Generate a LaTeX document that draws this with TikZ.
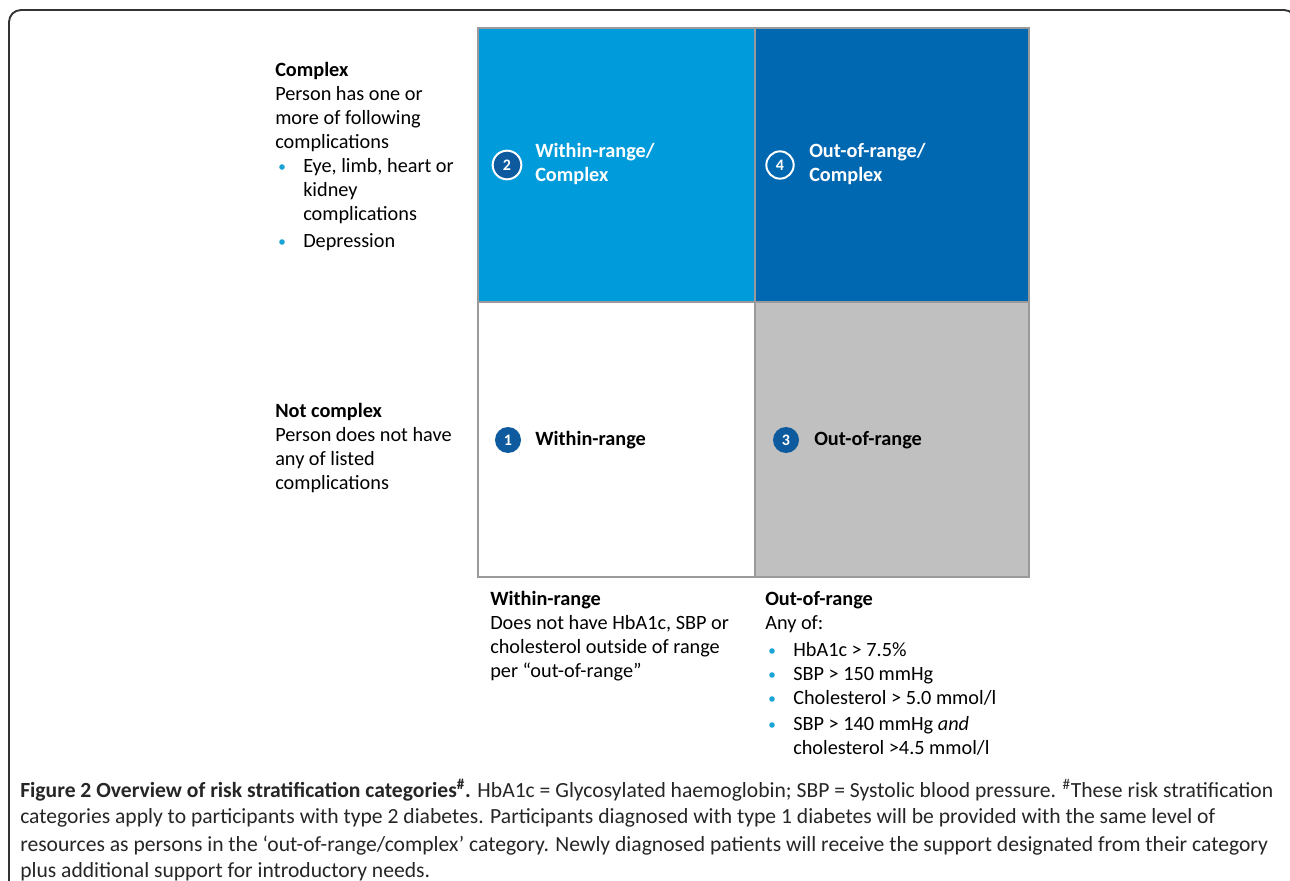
\documentclass[tikz,border=0pt]{standalone}
\usepackage{fontspec}
\setmainfont{Carlito}
\newfontfamily\capfont{Carlito}
\definecolor{lblue}{HTML}{009BDA}
\definecolor{dblue}{HTML}{0067B1}
\definecolor{cblue}{HTML}{0D5A9E}
\definecolor{qgrey}{HTML}{C0C0C0}
\definecolor{bul}{HTML}{1AA3D4}
\definecolor{edge}{HTML}{9A9A9A}
\definecolor{framec}{HTML}{333333}
\newcommand{\dfont}{\fontsize{15.2}{18}\selectfont}
\newcommand{\cfont}{\capfont\fontsize{16.2}{21}\selectfont}
\tikzset{
  quad/.style={draw=edge, line width=0.9pt},
  lbl/.style={anchor=north west, inner sep=0pt, align=left, font=\dfont, text=black},
  qlbl/.style={anchor=west, inner sep=0pt, align=left, font=\dfont\bfseries},
  numring/.style={circle, draw=white, line width=1.5pt, fill=cblue, minimum size=21.5pt, inner sep=0pt, text=white, font=\fontsize{12}{12}\selectfont\bfseries},
  numdot/.style={circle, fill=cblue, minimum size=19.5pt, inner sep=0pt, text=white, font=\fontsize{12}{12}\selectfont\bfseries},
  dot/.style={fill=bul},
  capl/.style={anchor=west, inner sep=0pt, font=\cfont, text=black!85}
}
\begin{document}
\begin{tikzpicture}[x=0.75pt,y=-0.75pt]
\useasboundingbox (0,0) rectangle (1290,881);
\fill[white] (0,0) rectangle (1290,881);
% frame
\draw[framec, line width=1.4pt, rounded corners=9pt] (9,900) -- (9,10) -- (1296,10) -- (1296,900);
% quadrants
\draw[quad, fill=lblue] (478,28) rectangle (755,302);
\draw[quad, fill=dblue] (755,28) rectangle (1029,302);
\draw[quad, fill=white] (478,302) rectangle (755,577);
\draw[quad, fill=qgrey] (755,302) rectangle (1029,577);
% quadrant labels
\node[numring] (n2) at (507,165) {2};
\node[qlbl, text=white] (t2) at (535,164) {Within-range/\\Complex};
\node[numring, fill=dblue, minimum size=20.5pt] (n4) at (780,165) {4};
\node[qlbl, text=white] (t4) at (809,164) {Out-of-range/\\Complex};
\node[numdot] (n1) at (508,440) {1};
\node[qlbl, text=black] (t1) at (535,440) {Within-range};
\node[numdot] (n3) at (786,440) {3};
\node[qlbl, text=black] (t3) at (814,440) {Out-of-range};
% left texts
\node[lbl] (cx) at (275,62.5) {\textbf{Complex}\\Person has one or\\more of following\\complications};
\fill[dot] (282,167) circle (2.8);
\node[lbl] (cx1) at (303,158.5) {Eye, limb, heart or\\kidney\\complications};
\fill[dot] (282,242) circle (2.8);
\node[lbl] (cx2) at (303,233.5) {Depression};
\node[lbl] (nc) at (275,403.5) {\textbf{Not complex}\\Person does not have\\any of listed\\complications};
% bottom texts
\node[lbl] (wr) at (490,591.5) {\textbf{Within-range}\\Does not have HbA1c, SBP or\\cholesterol outside of range\\per “out-of-range”};
\node[lbl] (orh) at (765,591.5) {\textbf{Out-of-range}\\Any of:};
\fill[dot] (772,651) circle (2.8);
\fill[dot] (772,675) circle (2.8);
\fill[dot] (772,699) circle (2.8);
\fill[dot] (772,725) circle (2.8);
\node[lbl] (or1) at (793,642.5) {HbA1c \textgreater{} 7.5\%\\SBP \textgreater{} 150 mmHg\\Cholesterol \textgreater{} 5.0 mmol/l};
\node[lbl] (or2) at (793,716.5) {SBP \textgreater{} 140 mmHg \textit{and}\\cholesterol \textgreater4.5 mmol/l};
% caption
\node[capl] (c1) at (20,790) {\textbf{Figure 2 Overview of risk stratification categories\textsuperscript{\#}.} HbA1c = Glycosylated haemoglobin; SBP = Systolic blood pressure. \textsuperscript{\#}These risk stratification};
\node[capl] (c2) at (20,818) {categories apply to participants with type 2 diabetes. Participants diagnosed with type 1 diabetes will be provided with the same level of};
\node[capl] (c3) at (20,846) {resources as persons in the ‘out-of-range/complex’ category. Newly diagnosed patients will receive the support designated from their category};
\node[capl] (c4) at (20,872) {plus additional support for introductory needs.};
\end{tikzpicture}
\end{document}
